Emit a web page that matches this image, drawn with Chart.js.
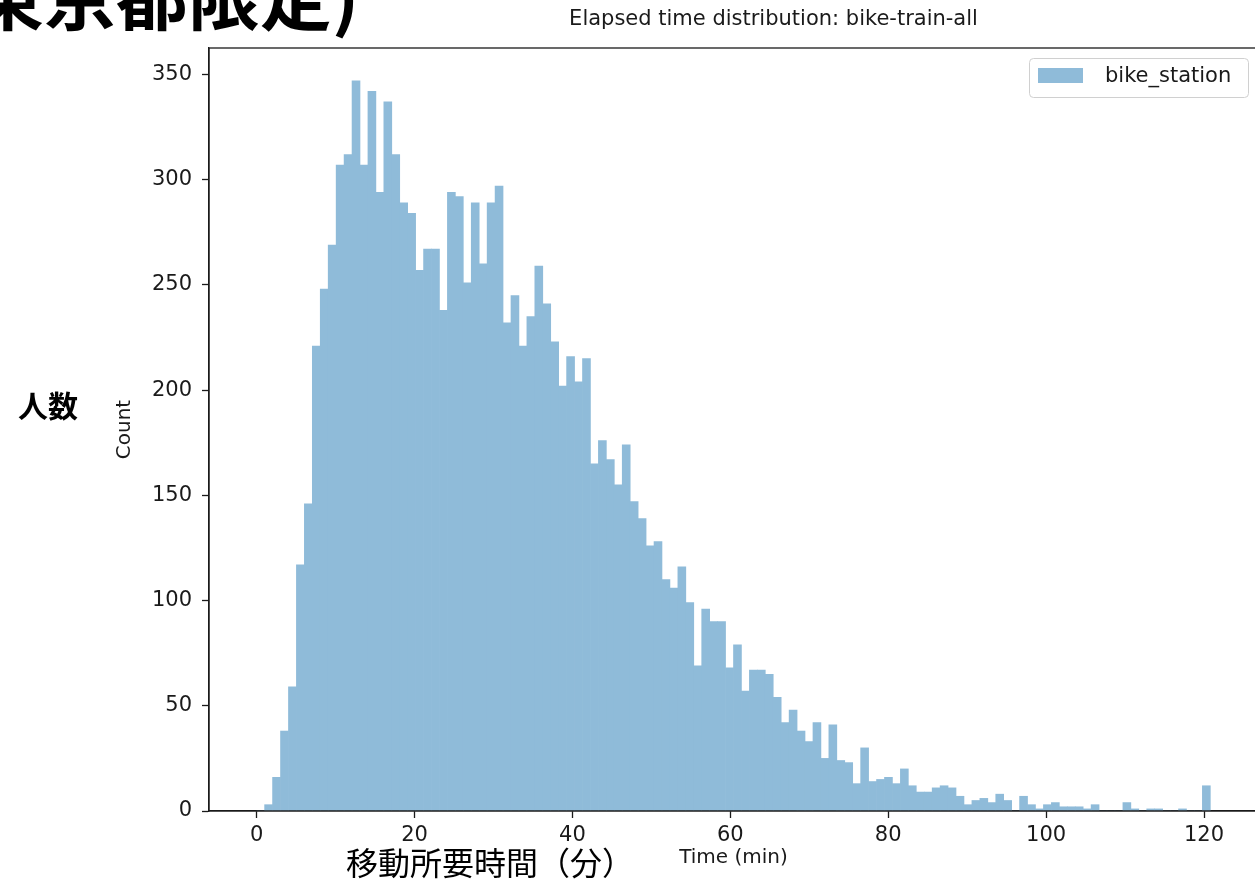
<!DOCTYPE html>
<html>
<head>
<meta charset="utf-8">
<script src="https://cdn.jsdelivr.net/npm/chart.js@4/dist/chart.umd.min.js"></script>
<style>
  html, body { margin: 0; padding: 0; background: #fff; overflow: hidden; width: 1255px; height: 892px; }
  #wrap { position: absolute; left: 0; top: 0; width: 1270px; height: 892px; }
  .jp { position: absolute; font-family: "Noto Sans CJK JP", sans-serif; color: #000; white-space: nowrap; line-height: 1; }
  #topText { left: -28px; top: -43px; font-size: 72px; font-weight: 700; }
  #yJp { left: 18px; top: 389px; font-size: 30px; font-weight: 700; }
  #xJp { left: 346px; top: 845px; font-size: 32px; font-weight: 400; }
</style>
</head>
<body>
<div id="wrap"><canvas id="c" width="1270" height="892"></canvas></div>
<div class="jp" id="topText">東京都限定)</div>
<div class="jp" id="yJp">人数</div>
<div class="jp" id="xJp">移動所要時間（分）</div>
<script>
// ---- data ----
const chartTitle = "Elapsed time distribution: bike-train-all";
const seriesLabel = "bike_station";
const xAxisLabel = "Time (min)";
const yAxisLabel = "Count";
const binCount = 120;
const binMaxMinutes = 120.8;            // right edge of last bin
const xTickValues = [0, 20, 40, 60, 80, 100, 120];
const yTickValues = [0, 50, 100, 150, 200, 250, 300, 350];
// counts per bin (bin 0 .. bin 119)
const counts = [
  0, 3, 16, 38, 59, 117, 146, 221, 248, 269,
  307, 312, 347, 307, 342, 294, 337, 312, 289, 284,
  257, 267, 267, 238, 294, 292, 251, 289, 260, 289,
  297, 232, 245, 221, 235, 259, 241, 223, 202, 216,
  204, 215, 165, 176, 167, 155, 174, 147, 139, 126,
  128, 110, 106, 116, 99, 69, 96, 90, 90, 68,
  79, 57, 67, 67, 65, 54, 42, 48, 38, 33,
  42, 25, 41, 24, 23, 13, 30, 14, 15, 16,
  13, 20, 12, 9, 9, 11, 12, 11, 7, 3,
  5, 6, 4, 8, 5, 0, 7, 3, 1, 3,
  4, 2, 2, 2, 1, 3, 0, 0, 0, 4,
  1, 0, 1, 1, 0, 0, 1, 0, 0, 12
];

const binWidth = binMaxMinutes / binCount;
const binCenters = counts.map((_, i) => (i + 0.5) * binWidth);
const points = counts.map((v, i) => ({ x: binCenters[i], y: v }));
const xMargin = binMaxMinutes * 0.05;
const yMax = Math.max(...counts) * 1.045;

const FONT = "DejaVu Sans";
const TXT = "#1a1a1a";

const framePlugin = {
  id: 'frame',
  afterDatasetsDraw(chart) {
    const { ctx, chartArea: a } = chart;
    ctx.save();
    ctx.strokeStyle = '#1a1a1a';
    ctx.lineWidth = 1.3;
    ctx.strokeRect(a.left, a.top, a.right - a.left, a.bottom - a.top);
    ctx.restore();
  }
};

const titlePlugin = {
  id: 'figTitle',
  afterDraw(chart) {
    const { ctx, chartArea: a } = chart;
    ctx.save();
    ctx.fillStyle = TXT;
    ctx.font = "21px " + FONT;
    ctx.textAlign = 'center';
    ctx.textBaseline = 'middle';
    ctx.fillText(chartTitle, (a.left + a.right) / 2 + 40, a.top - 28);
    ctx.restore();
  }
};

const legendPlugin = {
  id: 'insideLegend',
  afterDraw(chart) {
    const { ctx, chartArea: a } = chart;
    const ds = chart.data.datasets[0];
    const x = a.right - 229, y = a.top + 10, w = 219, h = 39;
    ctx.save();
    ctx.fillStyle = 'rgba(255,255,255,0.8)';
    ctx.strokeStyle = '#d0d0d0';
    ctx.lineWidth = 1;
    ctx.beginPath();
    ctx.roundRect(x + 0.5, y + 0.5, w, h, 4);
    ctx.fill();
    ctx.stroke();
    ctx.fillStyle = ds.backgroundColor;
    ctx.fillRect(x + 9, y + 10, 45, 15);
    ctx.fillStyle = TXT;
    ctx.font = "21px " + FONT;
    ctx.textBaseline = 'middle';
    ctx.textAlign = 'left';
    ctx.fillText(ds.label, x + 76, y + 19);
    ctx.restore();
  }
};

new Chart(document.getElementById('c'), {
  type: 'bar',
  data: {
    datasets: [{
      label: seriesLabel,
      data: points,
      backgroundColor: '#8fbbd9',
      borderWidth: 0,
      barPercentage: 1.0,
      categoryPercentage: 1.0,
      grouped: false
    }]
  },
  options: {
    responsive: false,
    devicePixelRatio: 1,
    animation: false,
    layout: { padding: { left: 113, right: 12, top: 48, bottom: 22 } },
    plugins: {
      legend: { display: false },
      tooltip: { enabled: false },
      title: { display: false }
    },
    scales: {
      x: {
        type: 'linear',
        offset: false,
        min: -xMargin,
        max: binMaxMinutes + xMargin,
        afterFit(s) { s.height = 59; },
        afterBuildTicks(s) { s.ticks = xTickValues.map(v => ({ value: v })); },
        ticks: { color: TXT, font: { family: FONT, size: 21 }, padding: 5, maxRotation: 0, includeBounds: false, callback: v => String(v) },
        grid: { display: true, offset: false, drawOnChartArea: false, drawTicks: true, tickLength: 7, tickColor: '#1a1a1a', tickWidth: 1.3 },
        border: { display: true, color: '#1a1a1a', width: 1.3 },
        title: { display: true, text: xAxisLabel, color: TXT, font: { family: FONT, size: 20 }, padding: 0 }
      },
      y: {
        type: 'linear',
        min: 0,
        max: yMax,
        afterFit(s) { s.width = 96; },
        afterBuildTicks(s) { s.ticks = yTickValues.map(v => ({ value: v })); },
        ticks: { color: TXT, font: { family: FONT, size: 21 }, padding: 10, includeBounds: false, callback: v => String(v) },
        grid: { display: true, drawOnChartArea: false, drawTicks: true, tickLength: 7, tickColor: '#1a1a1a', tickWidth: 1.3 },
        border: { display: true, color: '#1a1a1a', width: 1.3 },
        title: { display: true, text: yAxisLabel, color: TXT, font: { family: FONT, size: 20 }, padding: 0 }
      }
    }
  },
  plugins: [framePlugin, titlePlugin, legendPlugin]
});
</script>
</body>
</html>
